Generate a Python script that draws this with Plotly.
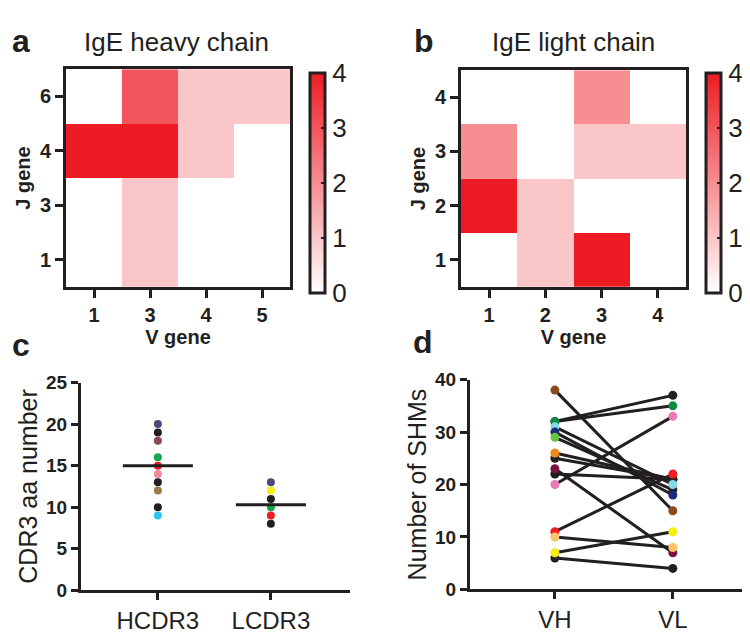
import plotly.graph_objects as go

W, H = 750, 634
FONT = "Liberation Sans, Arial, sans-serif"
BLACK = "#231f20"

# ---------------- data ----------------
heavy_v = ["1", "3", "4", "5"]
heavy_j = ["1", "3", "4", "6"]
heavy_counts = [
    [0, 1, 0, 0],   # J1
    [0, 1, 0, 0],   # J3
    [4, 4, 1, 0],   # J4
    [0, 3, 1, 1],   # J6
]
light_v = ["1", "2", "3", "4"]
light_j = ["1", "2", "3", "4"]
light_counts = [
    [0, 1, 4, 0],   # J1
    [4, 1, 0, 0],   # J2
    [2, 0, 1, 1],   # J3
    [0, 0, 2, 0],   # J4
]
count_ticks = [0, 1, 2, 3, 4]

cdr3_groups = ["HCDR3", "LCDR3"]
hcdr3_len = [20, 19, 18, 16, 15, 14, 13, 12, 10, 9]
hcdr3_colors = ["#4b4a7c", BLACK, "#8c4a55", "#12a84b", "#ee1c25",
                "#f28a9c", BLACK, "#9b7a45", BLACK, "#2ec5f2"]
lcdr3_len = [13, 12, 11, 10, 9, 8]
lcdr3_colors = ["#4b4a7c", "#f5ec10", BLACK, "#12a84b", "#ee1c25", BLACK]
cdr3_center = [15.0, 10.3]
cdr3_ticks = [0, 5, 10, 15, 20, 25]

shm_groups = ["VH", "VL"]
vh_shm = [38, 32, 32, 31, 30, 29, 26, 25, 23, 22, 20, 11, 10, 7, 6]
vl_shm = [15, 37, 35, 20, 18, 19, 21, 21, 7, 21, 33, 22, 8, 11, 4]
vh_colors = ["#8a4a1c", BLACK, "#0f8a45", "#86d8e8", "#1f2a7a", "#6cc040",
             "#f08a1e", BLACK, "#7a1240", BLACK, "#e87bb8", "#ee1c25",
             "#fcc46a", "#f5ec10", BLACK]
vl_colors = ["#8a4a1c", BLACK, "#0f8a45", "#86d8e8", "#1f2a7a", BLACK,
             BLACK, BLACK, "#7a1240", BLACK, "#e87bb8", "#ee1c25",
             "#fcc46a", "#f5ec10", BLACK]
shm_ticks = [0, 10, 20, 30, 40]

# ---------------- helpers ----------------
def fx(p):
    return p / W

def fy(p):
    return 1 - p / H

REDSCALE = [[0, "#ffffff"], [1, "#ed1c24"]]

fig = go.Figure()

def colorbar(x_left):
    return dict(
        x=fx(x_left), xanchor="left", xref="paper",
        y=fy(57), yanchor="top", yref="paper",
        len=220, lenmode="pixels", thickness=15,
        outlinewidth=3, outlinecolor=BLACK,
        tickvals=count_ticks, ticks="inside", ticklen=5, tickwidth=2,
        tickcolor=BLACK,
        tickfont=dict(family=FONT, size=26, color=BLACK),
        xpad=0, ypad=0,
    )

fig.add_trace(go.Heatmap(
    x=heavy_v, y=heavy_j, z=heavy_counts, zmin=0, zmax=4,
    colorscale=REDSCALE, colorbar=colorbar(302), xaxis="x", yaxis="y",
    hoverinfo="skip"))
fig.add_trace(go.Heatmap(
    x=light_v, y=light_j, z=light_counts, zmin=0, zmax=4,
    colorscale=REDSCALE, colorbar=colorbar(698), xaxis="x2", yaxis="y2",
    hoverinfo="skip"))

# panel c
for i, (vals, cols) in enumerate([(hcdr3_len, hcdr3_colors),
                                  (lcdr3_len, lcdr3_colors)]):
    fig.add_trace(go.Scatter(
        x=[i] * len(vals), y=vals, mode="markers",
        marker=dict(size=8, color=cols, line=dict(width=0)),
        xaxis="x3", yaxis="y3", showlegend=False, hoverinfo="skip"))
for i, c in enumerate(cdr3_center):
    fig.add_trace(go.Scatter(
        x=[i - 0.31, i + 0.31], y=[c, c], mode="lines",
        line=dict(color=BLACK, width=3),
        xaxis="x3", yaxis="y3", showlegend=False, hoverinfo="skip"))

# panel d
lx, ly = [], []
for a, b in zip(vh_shm, vl_shm):
    lx += [0, 1, None]
    ly += [a, b, None]
fig.add_trace(go.Scatter(
    x=lx, y=ly, mode="lines", line=dict(color=BLACK, width=3),
    xaxis="x4", yaxis="y4", showlegend=False, hoverinfo="skip"))
for gi, (vals, cols) in enumerate([(vh_shm, vh_colors), (vl_shm, vl_colors)]):
    order = sorted(range(len(vals)), key=lambda k: (cols[k] != BLACK, k))
    fig.add_trace(go.Scatter(
        x=[gi] * len(vals), y=[vals[k] for k in order], mode="markers",
        marker=dict(size=9, color=[cols[k] for k in order], line=dict(width=0)),
        xaxis="x4", yaxis="y4", showlegend=False, hoverinfo="skip"))

# ---------------- axes ----------------
tick_bold = dict(family=FONT, size=20, color=BLACK, weight="bold")
title_bold = dict(family=FONT, size=20, color=BLACK, weight="bold")

def heat_axes(xd, yd):
    xa = dict(domain=[fx(xd[0]), fx(xd[1])], type="category",
              showline=True, mirror=True, linewidth=3, linecolor=BLACK,
              ticks="outside", ticklen=8, tickwidth=3, tickcolor=BLACK,
              tickfont=tick_bold, showgrid=False, zeroline=False,
              title=dict(text="V gene", font=title_bold, standoff=4),
              fixedrange=True)
    ya = dict(domain=[fy(yd[1]), fy(yd[0])], type="category",
              showline=True, mirror=True, linewidth=3, linecolor=BLACK,
              ticks="outside", ticklen=8, tickwidth=3, tickcolor=BLACK,
              tickfont=tick_bold, showgrid=False, zeroline=False,
              title=dict(text="J gene", font=title_bold, standoff=4),
              fixedrange=True)
    return xa, ya

xa1, ya1 = heat_axes((58, 282), (53, 278))
xa2, ya2 = heat_axes((453, 678), (54, 278))
ya1["anchor"] = "x"; xa1["anchor"] = "y"
ya2["anchor"] = "x2"; xa2["anchor"] = "y2"

def scatter_axes(xd, yd, xrange, yrange, cats, yt, ytitle, anchors):
    xa = dict(domain=[fx(xd[0]), fx(xd[1])], range=xrange,
              tickvals=list(range(len(cats))), ticktext=cats,
              showline=True, linewidth=3, linecolor=BLACK,
              ticks="outside", ticklen=7, tickwidth=3, tickcolor=BLACK,
              tickfont=dict(family=FONT, size=24, color=BLACK),
              showgrid=False, zeroline=False, anchor=anchors[1],
              fixedrange=True)
    ya = dict(domain=[fy(yd[1]), fy(yd[0])], range=yrange, tickvals=yt,
              showline=True, linewidth=3, linecolor=BLACK,
              ticks="outside", ticklen=7, tickwidth=3, tickcolor=BLACK,
              tickfont=dict(family=FONT, size=19, color=BLACK, weight="bold"),
              showgrid=False, zeroline=False, anchor=anchors[0],
              title=dict(text=ytitle, font=dict(family=FONT, size=25, color=BLACK),
                         standoff=2),
              fixedrange=True)
    return xa, ya

xa3, ya3 = scatter_axes((73, 342), (377, 592), [-0.68, 1.70], [0, 25],
                        cdr3_groups, cdr3_ticks, "CDR3 aa number", ("x3", "y3"))
xa4, ya4 = scatter_axes((462, 745), (374, 591), [-0.72, 1.68], [0, 40],
                        shm_groups, shm_ticks, "Number of SHMs", ("x4", "y4"))

annotations = []
def label(text, x, y, size, bold=False, xanchor="center"):
    f = dict(family=FONT, size=size, color=BLACK)
    if bold:
        f["weight"] = "bold"
    annotations.append(dict(text=text, x=fx(x), y=fy(y), xref="paper",
                            yref="paper", showarrow=False, font=f,
                            xanchor=xanchor, yanchor="middle"))

label("a", 2, 24, 32, bold=True, xanchor="left")
label("b", 404, 24, 32, bold=True, xanchor="left")
label("c", 2, 338, 32, bold=True, xanchor="left")
label("d", 403, 335, 32, bold=True, xanchor="left")
label("IgE heavy chain", 168, 25, 26)
label("IgE light chain", 565, 25, 26)

fig.update_layout(
    width=W, height=H, margin=dict(l=0, r=0, t=0, b=0),
    paper_bgcolor="white", plot_bgcolor="white",
    xaxis=xa1, yaxis=ya1, xaxis2=xa2, yaxis2=ya2,
    xaxis3=xa3, yaxis3=ya3, xaxis4=xa4, yaxis4=ya4,
    annotations=annotations, showlegend=False,
    font=dict(family=FONT, color=BLACK),
)

fig.write_html("out.html")
